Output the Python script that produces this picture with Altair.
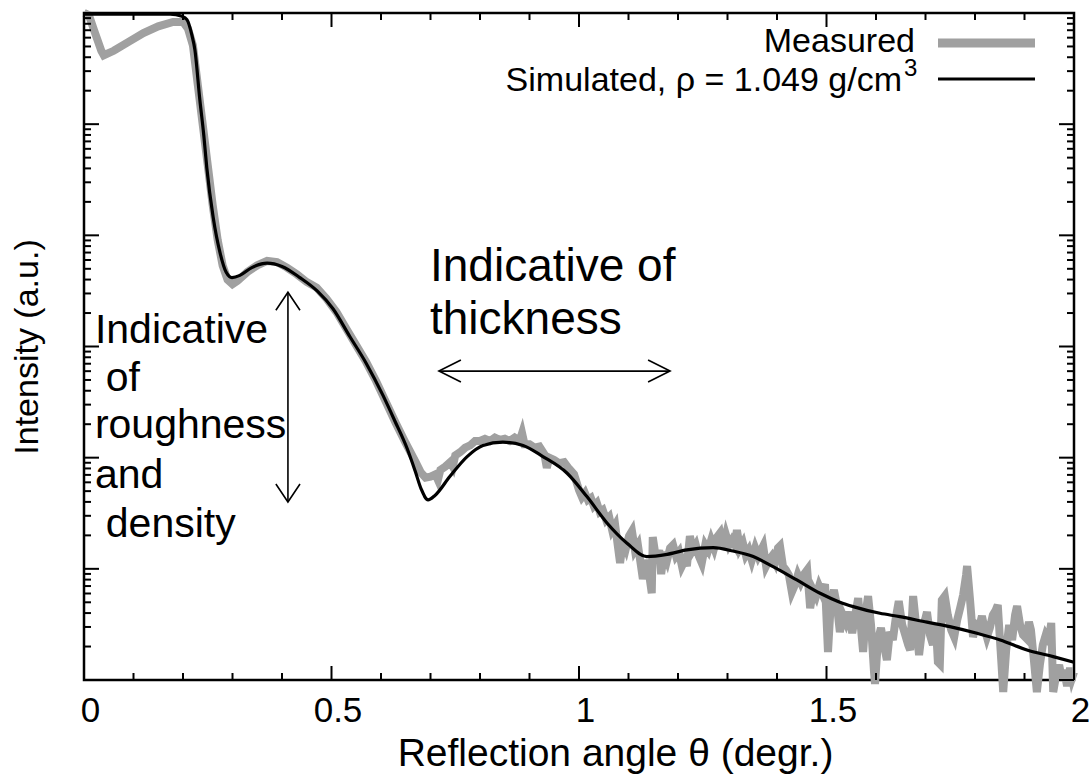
import altair as alt
import pandas as pd

# ---------------- data ----------------
# intensities are read as decades (log10 of intensity, a.u.)
sim_theta = [0, 0.093, 0.174, 0.198, 0.208, 0.218, 0.224, 0.234, 0.242, 0.248,
             0.261, 0.275, 0.287, 0.299, 0.315, 0.339, 0.370, 0.400, 0.436, 0.471,
             0.503, 0.537, 0.570, 0.604, 0.628, 0.653, 0.669, 0.681, 0.695, 0.709,
             0.739, 0.774, 0.806, 0.846, 0.887, 0.927, 0.976, 1.016, 1.057, 1.097,
             1.137, 1.178, 1.218, 1.271, 1.311, 1.352, 1.392, 1.440, 1.487, 1.527,
             1.554, 1.608, 1.648, 1.703, 1.749, 1.804, 1.851, 1.905, 1.958, 2.0]
sim_decade = [5.99, 5.99, 5.99, 5.97, 5.94, 5.80, 5.67, 5.22, 4.90, 4.61,
              4.16, 3.84, 3.67, 3.62, 3.64, 3.71, 3.75, 3.72, 3.62, 3.50,
              3.34, 3.09, 2.85, 2.56, 2.33, 2.08, 1.88, 1.72, 1.62, 1.66,
              1.83, 2.01, 2.11, 2.14, 2.11, 2.01, 1.86, 1.65, 1.41, 1.23,
              1.11, 1.13, 1.17, 1.19, 1.16, 1.11, 1.02, 0.90, 0.78, 0.70,
              0.66, 0.60, 0.57, 0.52, 0.48, 0.42, 0.36, 0.27, 0.21, 0.16]

meas_theta = [
    0.000, 0.010, 0.020, 0.035, 0.040, 0.060, 0.090, 0.120, 0.150, 0.180,
    0.200, 0.210, 0.220, 0.230, 0.240, 0.250, 0.260, 0.270, 0.280, 0.290,
    0.300, 0.310, 0.330, 0.350, 0.370, 0.390, 0.410, 0.430, 0.450, 0.470,
    0.490, 0.510, 0.530, 0.550, 0.570, 0.590, 0.610, 0.630, 0.650, 0.670,
    0.680, 0.690, 0.700, 0.710, 0.715, 0.720, 0.730, 0.740, 0.745, 0.750,
    0.760, 0.770, 0.780, 0.790, 0.800, 0.810, 0.820, 0.830, 0.840, 0.850,
    0.860, 0.870, 0.880, 0.885, 0.890, 0.900, 0.910, 0.920, 0.930, 0.935,
    0.940, 0.950, 0.960, 0.970, 0.980, 0.990,
    1.000, 1.006, 1.012, 1.018, 1.024, 1.030, 1.036, 1.042, 1.048, 1.055,
    1.061, 1.067, 1.073, 1.079, 1.083, 1.089, 1.095, 1.101, 1.107, 1.113,
    1.119, 1.125, 1.129, 1.135, 1.141, 1.147, 1.149, 1.156, 1.162, 1.166,
    1.172, 1.178, 1.184, 1.190, 1.196, 1.202, 1.208, 1.214, 1.218, 1.224,
    1.230, 1.236, 1.242, 1.248, 1.255, 1.261, 1.267, 1.273, 1.279, 1.285,
    1.291, 1.297, 1.303, 1.309, 1.315, 1.319, 1.325, 1.331, 1.337, 1.343,
    1.349, 1.356, 1.362, 1.368, 1.372, 1.378, 1.384, 1.390, 1.396, 1.402,
    1.406, 1.412, 1.418, 1.424, 1.430, 1.436, 1.442, 1.448, 1.455, 1.461,
    1.467, 1.473, 1.479, 1.485, 1.491, 1.497, 1.503, 1.509, 1.515, 1.521,
    1.527, 1.533, 1.539, 1.545, 1.552, 1.558, 1.564, 1.570, 1.574, 1.580,
    1.584, 1.590, 1.596, 1.598, 1.604, 1.610, 1.616, 1.622, 1.628, 1.634,
    1.640, 1.646, 1.653, 1.659, 1.665, 1.669, 1.675, 1.681, 1.687, 1.693,
    1.699, 1.703, 1.709, 1.715, 1.721, 1.725, 1.729, 1.733, 1.739, 1.745,
    1.752, 1.758, 1.764, 1.770, 1.776, 1.782, 1.784, 1.790, 1.796, 1.802,
    1.808, 1.814, 1.820, 1.824, 1.830, 1.836, 1.842, 1.846, 1.853, 1.857,
    1.863, 1.869, 1.875, 1.881, 1.885, 1.891, 1.897, 1.903, 1.909, 1.913,
    1.919, 1.925, 1.931, 1.937, 1.943, 1.949, 1.954, 1.958, 1.964, 1.970,
    1.976, 1.980, 1.986, 1.992, 1.996, 2.000]
meas_decade = [
    6.00, 5.98, 5.85, 5.66, 5.62, 5.66, 5.74, 5.82, 5.88, 5.92,
    5.92, 5.86, 5.71, 5.35, 4.99, 4.63, 4.27, 3.96, 3.73, 3.60,
    3.56, 3.59, 3.67, 3.73, 3.77, 3.76, 3.71, 3.65, 3.58, 3.53,
    3.43, 3.31, 3.16, 3.01, 2.86, 2.69, 2.50, 2.31, 2.13, 1.96,
    1.87, 1.82, 1.83, 1.85, 1.80, 1.89, 1.92, 1.96, 1.92, 2.02,
    2.05, 2.09, 2.11, 2.15, 2.15, 2.17, 2.15, 2.18, 2.16, 2.17,
    2.15, 2.18, 2.15, 2.22, 2.12, 2.12, 2.09, 2.10, 2.03, 1.91,
    2.00, 1.98, 1.95, 1.96, 1.90, 1.85,
    1.709, 1.646, 1.682, 1.619, 1.637, 1.565, 1.592, 1.511, 1.529, 1.439,
    1.466, 1.349, 1.394, 1.187, 1.052, 1.259, 1.187, 1.295, 1.340, 1.169,
    1.214, 1.034, 0.908, 1.079, 0.971, 0.782, 1.286, 1.079, 1.169, 0.953,
    1.151, 1.079, 1.187, 1.214, 1.115, 1.151, 1.025, 1.079, 1.025, 1.295,
    1.169, 1.214, 1.115, 1.052, 1.214, 1.169, 1.259, 1.187, 1.286, 1.322,
    1.187, 1.304, 1.214, 1.259, 1.214, 1.349, 1.187, 1.233, 1.124, 1.169,
    1.079, 1.187, 1.115, 1.169, 1.205, 1.025, 1.079, 1.115, 1.061, 1.187,
    1.205, 1.025, 0.989, 0.944, 0.791, 0.854, 0.944, 0.881, 0.953, 0.989,
    0.647, 0.809, 0.755, 0.845, 0.782, 0.863, 0.252, 0.719, 0.809, 0.674,
    0.432, 0.585, 0.522, 0.612, 0.423, 0.585, 0.737, 0.450, 0.252, 0.629,
    0.755, 0.495, 0.072, -0.036, 0.360, 0.468, 0.315, 0.180, 0.432, 0.360,
    0.558, 0.710, 0.495, 0.405, 0.315, 0.270, 0.755, 0.495, 0.225, 0.450,
    0.540, 0.612, 0.405, 0.315, 0.495, 0.162, 0.144, 0.719, 0.755, 0.585,
    0.450, 0.387, 0.540, 0.647, 0.764, 0.944, 1.025, 0.719, 0.387, 0.495,
    0.468, 0.576, 0.450, 0.387, 0.468, 0.585, 0.629, 0.674, 0.180, -0.108,
    0.270, 0.495, 0.360, 0.585, 0.665, 0.495, 0.405, 0.378, 0.522, 0.450,
    0.180, -0.108, 0.135, 0.315, 0.405, 0.360, 0.513, -0.108, 0.045, 0.135,
    0.000, 0.090, -0.054, 0.108, 0.018, 0.072]

x_tick_labels = [0, 0.5, 1, 1.5, 2]
series_names = ["Measured", "Simulated, \u03c1 = 1.049 g/cm"]
superscript = "3"

# annotations (in data coordinates: angle, intensity)
thick_text = ["Indicative of", "thickness"]
thick_theta = [0.699, 0.699]
thick_I = [3.87e3, 1.29e3]
rough_text = ["Indicative", "of", "roughness", "and", "density"]
rough_theta = [0.022, 0.044, 0.022, 0.022, 0.044]
rough_I = [1.07e3, 397, 150, 53.3, 19.3]
harrow_theta = [0.717, 1.184]
harrow_I = [601, 601]
varrow_theta = [0.412, 0.412]
varrow_I = [3.08e3, 39.9]

# ---------------- chart ----------------
W, H = 990, 667
FONT = "Liberation Sans"
xs = alt.Scale(domain=[0, 2], nice=False, zero=False)
ys = alt.Scale(type="log", domain=[1, 1e6], nice=False)

x_axis = alt.Axis(values=x_tick_labels, format="~g", ticks=False, domain=False, grid=False,
                  labelFontSize=35, labelPadding=13, labelColor="black", labelFont=FONT,
                  labelFlush=False, labelOffset=6, labelOverlap=False,
                  title="Reflection angle \u03b8 (degr.)", titleFontSize=39,
                  titleFontWeight="normal", titleFont=FONT, titleColor="black",
                  titleX=531, titleY=85, titleAlign="center", titleBaseline="alphabetic")
y_axis = alt.Axis(labels=False, ticks=False, domain=False, grid=False,
                  title="Intensity (a.u.)", titleFontSize=34, titleFontWeight="normal",
                  titleFont=FONT, titleColor="black", titleX=-47, titleY=H / 2,
                  titleAngle=270, titleBaseline="alphabetic")


def X(field):
    return alt.X(field, scale=xs, axis=x_axis)


def Y(field):
    return alt.Y(field, scale=ys, axis=y_axis)


meas_df = pd.DataFrame({"theta": meas_theta, "decade": meas_decade})
sim_df = pd.DataFrame({"theta": sim_theta, "decade": sim_decade})

meas = alt.Chart(meas_df).transform_calculate(I="pow(10, datum.decade)").mark_line(
    color="#a0a0a0", strokeWidth=8, clip=False).encode(x=X("theta:Q"), y=Y("I:Q"))
sim = alt.Chart(sim_df).transform_calculate(I="pow(10, datum.decade)").mark_line(
    color="black", strokeWidth=3.2, interpolate="monotone").encode(x=X("theta:Q"), y=Y("I:Q"))

# inward ticks (gnuplot style) on all four sides
x_major = x_tick_labels
x_minor = [i / 10 for i in range(21) if i % 5 != 0]
y_major = [10 ** k for k in range(7)]
y_minor = [m * 10 ** k for k in range(6) for m in range(2, 10)]


def xticks(vals, length):
    df = pd.DataFrame({"t": vals})
    base = alt.Chart(df).mark_rule(color="black", strokeWidth=2)
    return [base.encode(x=X("t:Q"), y=alt.value(H), y2=alt.value(H - length)),
            base.encode(x=X("t:Q"), y=alt.value(0), y2=alt.value(length))]


def yticks(vals, length):
    df = pd.DataFrame({"t": vals})
    base = alt.Chart(df).mark_rule(color="black", strokeWidth=2)
    return [base.encode(y=Y("t:Q"), x=alt.value(0), x2=alt.value(length)),
            base.encode(y=Y("t:Q"), x=alt.value(W), x2=alt.value(W - length))]


tick_layers = xticks(x_major, 14) + xticks(x_minor, 7) + yticks(y_major, 15) + yticks(y_minor, 7)

# annotations
thick_df = pd.DataFrame({"theta": thick_theta, "I": thick_I, "label": thick_text})
rough_df = pd.DataFrame({"theta": rough_theta, "I": rough_I, "label": rough_text})
thick_txt = alt.Chart(thick_df).mark_text(align="left", baseline="alphabetic", fontSize=46,
                                          font=FONT, color="black").encode(
    x=X("theta:Q"), y=Y("I:Q"), text="label:N")
rough_txt = alt.Chart(rough_df).mark_text(align="left", baseline="alphabetic", fontSize=41,
                                          font=FONT, color="black").encode(
    x=X("theta:Q"), y=Y("I:Q"), text="label:N")

arrow_df = pd.DataFrame({
    "x1": [harrow_theta[0], varrow_theta[0]], "x2": [harrow_theta[1], varrow_theta[1]],
    "y1": [harrow_I[0], varrow_I[0]], "y2": [harrow_I[1], varrow_I[1]]})
shafts = alt.Chart(arrow_df).mark_rule(color="black", strokeWidth=1.6).encode(
    x=X("x1:Q"), x2="x2:Q", y=Y("y1:Q"), y2="y2:Q")


def head(theta, inten, path, size):
    df = pd.DataFrame({"theta": [theta], "I": [inten]})
    return alt.Chart(df).mark_point(shape=path, filled=False, stroke="black", strokeWidth=1.6,
                                    size=size, opacity=1).encode(x=X("theta:Q"), y=Y("I:Q"))


heads = [
    head(harrow_theta[0], harrow_I[0], "M1,-0.5L0,0L1,0.5", 1936),
    head(harrow_theta[1], harrow_I[1], "M-1,-0.5L0,0L-1,0.5", 1936),
    head(varrow_theta[0], varrow_I[0], "M-0.67,1L0,0L0.67,1", 1296),
    head(varrow_theta[1], varrow_I[1], "M-0.67,-1L0,0L0.67,-1", 1296),
]

# legend (top right, inside the frame, label left of its sample line)
leg_df = pd.DataFrame({"name": series_names, "sup": ["", superscript]})


def leg_row(i):
    return alt.Chart(leg_df).transform_filter(alt.datum.name == series_names[i])


leg_meas_txt = leg_row(0).mark_text(align="right", baseline="alphabetic", fontSize=34,
                                    font=FONT, color="black").encode(
    x=alt.value(831), y=alt.value(39), text="name:N")
leg_sim_txt = leg_row(1).mark_text(align="right", baseline="alphabetic", fontSize=34,
                                   font=FONT, color="black").encode(
    x=alt.value(818), y=alt.value(78), text="name:N")
leg_sim_sup = leg_row(1).mark_text(align="left", baseline="alphabetic", fontSize=24, font=FONT,
                                   color="black").encode(
    x=alt.value(820), y=alt.value(63), text="sup:N")
leg_meas_line = leg_row(0).mark_rule(color="#a0a0a0", strokeWidth=9).encode(
    x=alt.value(854), x2=alt.value(951), y=alt.value(30))
leg_sim_line = leg_row(1).mark_rule(color="black", strokeWidth=3).encode(
    x=alt.value(854), x2=alt.value(951), y=alt.value(66))

chart = alt.layer(
    meas, sim, *tick_layers, thick_txt, rough_txt, shafts, *heads,
    leg_meas_txt, leg_sim_txt, leg_sim_sup, leg_meas_line, leg_sim_line,
).properties(
    width=W, height=H,
    autosize=alt.AutoSizeParams(type="none"),
    padding={"left": 84, "top": 13, "right": 15, "bottom": 104},
    background="white",
).configure(font=FONT, view=alt.ViewConfig(stroke="black", strokeWidth=2.5))

chart.save("out.html", embed_options={"renderer": "svg", "actions": False})
